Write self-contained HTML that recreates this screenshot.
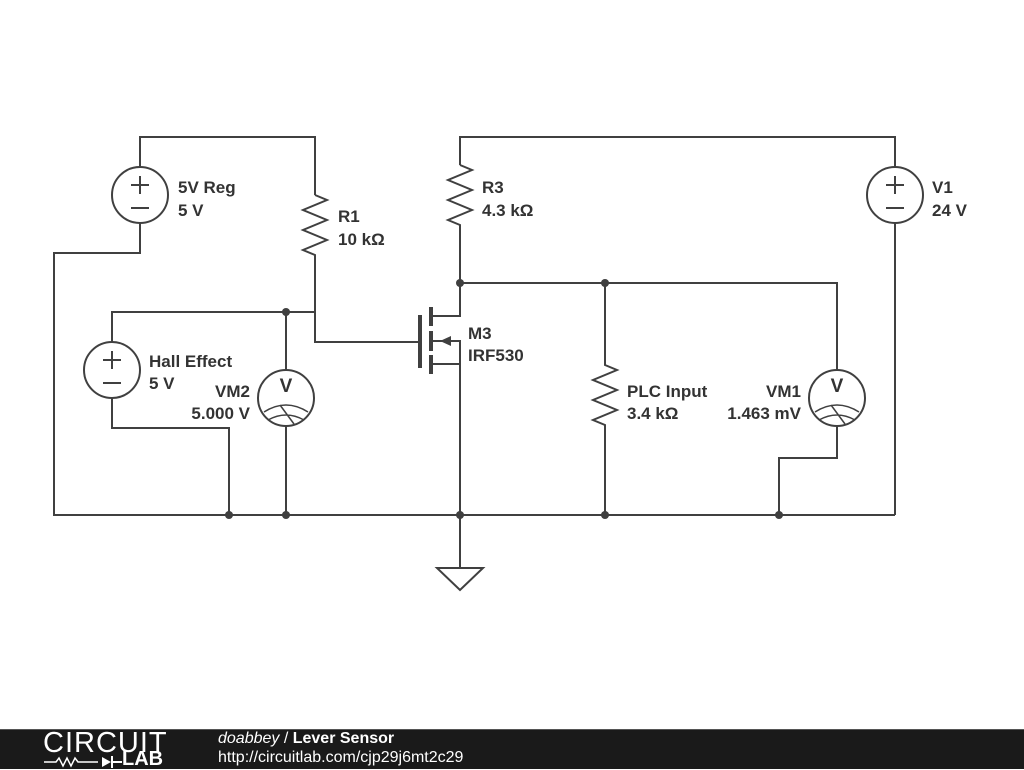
<!DOCTYPE html>
<html><head><meta charset="utf-8"><style>
body{margin:0;width:1024px;height:768px;background:#fff;overflow:hidden;position:relative;font-family:"Liberation Sans",sans-serif}
#bar{position:absolute;left:0;top:729px;width:1024px;height:39px;background:#1a1a1a;border-top:1px solid #555}
</style></head><body>
<svg width="1024" height="768" style="position:absolute;left:0;top:0" xmlns="http://www.w3.org/2000/svg">
<g stroke="#404040" stroke-width="2" fill="none">
<polyline points="140,167 140,137 315,137 315,195"/>
<polyline points="315,195 327,200 303,210 327,220 303,230 327,240 303,250 315,255 315,342 420,342"/>
<polyline points="140,223 140,253 54,253 54,515 895,515"/>
<polyline points="112,342 112,312 315,312"/>
<polyline points="112,398 112,428 229,428 229,515"/>
<line x1="286" y1="312" x2="286" y2="370"/><line x1="286" y1="426" x2="286" y2="515"/>
<polyline points="460,165 460,137 895,137 895,167"/>
<polyline points="460,165 472,170 448,180 472,190 448,200 472,210 448,220 460,225 460,283 837,283 837,370"/>
<line x1="895" y1="223" x2="895" y2="515"/>
<polyline points="460,283 460,316 432,316"/>
<polyline points="432,341 460,341 460,568"/>
<polyline points="432,364 460,364"/>
<polyline points="605,283 605,365 617,370 593,380 617,390 593,400 617,410 593,420 605,425 605,515"/>
<polyline points="837,426 837,458 779,458 779,515"/>
<polygon points="437,568 483,568 460,590"/>
<circle cx="140" cy="195" r="28"/><circle cx="112" cy="370" r="28"/><circle cx="895" cy="195" r="28"/>
<circle cx="286" cy="398" r="28"/><circle cx="837" cy="398" r="28"/>
<path d="M131,185h18M140,176v18M131,208h18 M103,360h18M112,351v18M103,383h18 M886,185h18M895,176v18M886,208h18"/>
<path d="M264,412 Q286,398 308,412 M268,420 Q286,410 304,420 M280,405 L294,424 M815,412 Q837,398 859,412 M819,420 Q837,410 855,420 M831,405 L845,424" stroke-width="1.5"/>
</g>
<g stroke="#404040" stroke-width="4">
<line x1="420" y1="315" x2="420" y2="368"/>
<line x1="431" y1="307" x2="431" y2="326"/><line x1="431" y1="331" x2="431" y2="351"/><line x1="431" y1="355" x2="431" y2="374"/>
</g>
<polygon points="440,341 451,336 451,346" fill="#404040"/>
<g fill="#404040">
<circle cx="286" cy="312" r="4"/><circle cx="460" cy="283" r="4"/><circle cx="605" cy="283" r="4"/>
<circle cx="229" cy="515" r="4"/><circle cx="286" cy="515" r="4"/><circle cx="460" cy="515" r="4"/><circle cx="605" cy="515" r="4"/><circle cx="779" cy="515" r="4"/>
</g>
<g font-family="Liberation Sans,sans-serif" font-weight="bold" font-size="17" fill="#333">
<text x="178" y="193">5V Reg</text><text x="178" y="216">5 V</text>
<text x="338" y="222">R1</text><text x="338" y="245">10 kΩ</text>
<text x="482" y="193">R3</text><text x="482" y="216">4.3 kΩ</text>
<text x="932" y="193">V1</text><text x="932" y="216">24 V</text>
<text x="149" y="367">Hall Effect</text><text x="149" y="389">5 V</text>
<text x="250" y="397" text-anchor="end">VM2</text><text x="250" y="419" text-anchor="end">5.000 V</text>
<text x="468" y="339">M3</text><text x="468" y="361">IRF530</text>
<text x="627" y="397">PLC Input</text><text x="627" y="419">3.4 kΩ</text>
<text x="801" y="397" text-anchor="end">VM1</text><text x="801" y="419" text-anchor="end">1.463 mV</text>
<text x="286" y="392" text-anchor="middle" font-size="19">V</text>
<text x="837" y="392" text-anchor="middle" font-size="19">V</text>
</g>
</svg>
<div id="bar">
<div style="position:absolute;left:43px;top:-1px;color:#fff;font-size:29px;letter-spacing:1px;font-weight:300;line-height:28px">CIRCUIT</div>
<svg style="position:absolute;left:44px;top:25px" width="130" height="14"><path d="M0,7h12l3,-4l4,8l4,-8l4,8l4,-8l3,4h20" stroke="#fff" stroke-width="1.5" fill="none"/><polygon points="58,2 58,12 67,7" fill="#fff"/><path d="M68,1v12M68,7h10" stroke="#fff" stroke-width="2"/></svg>
<div style="position:absolute;left:122px;top:19px;color:#fff;font-weight:bold;font-size:20px;line-height:20px">LAB</div>
<div style="position:absolute;left:218px;top:0px;color:#fff;font-size:16px"><i>doabbey</i> / <b>Lever Sensor</b></div>
<div style="position:absolute;left:218px;top:19px;color:#fff;font-size:16px">http://circuitlab.com/cjp29j6mt2c29</div>
</div>
</body></html>
